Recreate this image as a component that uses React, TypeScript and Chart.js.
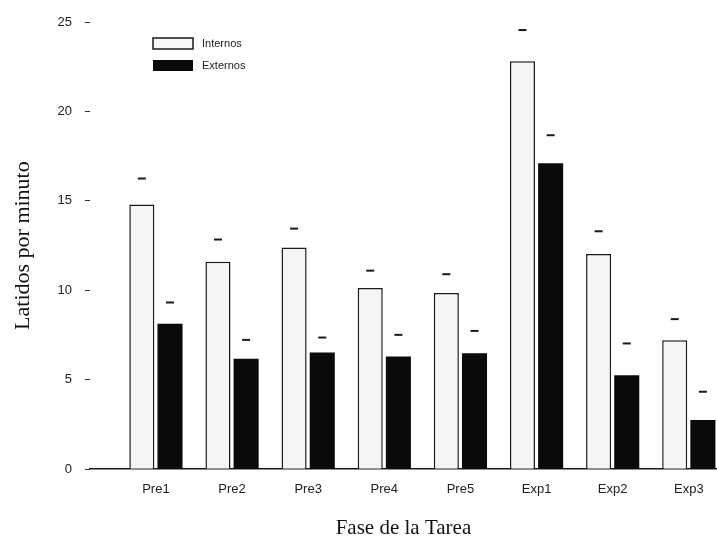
import React, { useEffect, useRef } from "react";
import { Chart, registerables } from "chart.js";

Chart.register(...registerables);

const categories = ["Pre1", "Pre2", "Pre3", "Pre4", "Pre5", "Exp1", "Exp2", "Exp3"];
const internos = [14.8, 11.6, 12.4, 10.13, 9.85, 22.8, 12.03, 7.21];
const externos = [8.13, 6.17, 6.52, 6.3, 6.48, 17.11, 5.25, 2.75];
const internosErr = [16.25, 12.84, 13.45, 11.1, 10.9, 24.55, 13.3, 8.39];
const externosErr = [9.32, 7.23, 7.36, 7.51, 7.73, 18.67, 7.03, 4.33];
const seriesLabels = ["Internos", "Externos"];
const yTicks = [0, 5, 10, 15, 20, 25];

const bgPlugin = {
  id: "bg",
  beforeDraw(chart: any) {
    const ctx = chart.ctx;
    ctx.save();
    ctx.fillStyle = "#ffffff";
    ctx.fillRect(0, 0, chart.width, chart.height);
    ctx.restore();
  },
};

const shiftPlugin = {
  id: "shiftX",
  afterLayout(chart: any) {
    const x = chart.scales.x;
    const start = chart.chartArea.left + 28;
    const len = 609;
    x._startPixel = start;
    x._endPixel = start + len;
    x._length = len;
  },
};

const capsPlugin = {
  id: "caps",
  afterDatasetsDraw(chart: any) {
    const ctx = chart.ctx;
    const y = chart.scales.y;
    const errs = [internosErr, externosErr];
    ctx.save();
    ctx.strokeStyle = "#1a1a1a";
    ctx.lineWidth = 2;
    chart.data.datasets.forEach((_: any, di: number) => {
      const meta = chart.getDatasetMeta(di);
      meta.data.forEach((bar: any, i: number) => {
        const py = y.getPixelForValue(errs[di][i]);
        ctx.beginPath();
        ctx.moveTo(bar.x - 4, py);
        ctx.lineTo(bar.x + 4, py);
        ctx.stroke();
      });
    });
    ctx.restore();
  },
};

const legendPlugin = {
  id: "customLegend",
  afterDraw(chart: any) {
    const ctx = chart.ctx;
    ctx.save();
    ctx.font = "11px 'Liberation Sans', Arial, sans-serif";
    ctx.textBaseline = "middle";
    ctx.fillStyle = "#f7f7f7";
    ctx.fillRect(153, 38, 40, 11);
    ctx.strokeStyle = "#1a1a1a";
    ctx.lineWidth = 1.5;
    ctx.strokeRect(153, 38, 40, 11);
    ctx.fillStyle = "#0a0a0a";
    ctx.fillRect(153, 60, 40, 11);
    ctx.fillStyle = "#222";
    ctx.fillText(seriesLabels[0], 202, 44);
    ctx.fillText(seriesLabels[1], 202, 66);
    ctx.restore();
  },
};

export default function App() {
  const ref = useRef<HTMLCanvasElement>(null);
  useEffect(() => {
    if (!ref.current) return;
    const chart = new Chart(ref.current, {
      type: "bar",
      data: {
        labels: categories,
        datasets: [
          {
            label: seriesLabels[0],
            data: internos,
            backgroundColor: "#f5f5f5",
            borderColor: "#1a1a1a",
            borderWidth: 1.5,
            categoryPercentage: 0.74,
            barPercentage: 0.89,
          },
          {
            label: seriesLabels[1],
            data: externos,
            backgroundColor: "#0a0a0a",
            borderWidth: 0,
            categoryPercentage: 0.74,
            barPercentage: 0.89,
          },
        ],
      },
      options: {
        animation: false,
        responsive: false,
        layout: { padding: { top: 22, right: 0, bottom: 1, left: 0 } },
        plugins: { legend: { display: false }, tooltip: { enabled: false } },
        scales: {
          x: {
            grid: { display: false },
            border: { display: true, color: "#1a1a1a", width: 1.5 },
            ticks: {
              color: "#222",
              padding: 4,
              font: { family: "'Liberation Sans', Arial, sans-serif", size: 13 },
            },
            title: {
              display: true,
              text: "Fase de la Tarea",
              color: "#111",
              padding: { top: 15, bottom: 0 },
              font: { family: "'Liberation Serif', 'Times New Roman', serif", size: 21 },
            },
          },
          y: {
            min: 0,
            max: 25,
            afterBuildTicks(scale: any) {
              scale.ticks = yTicks.map((v) => ({ value: v }));
            },
            grid: {
              display: true,
              drawOnChartArea: false,
              drawTicks: true,
              tickLength: 5,
              color: "#333",
            },
            border: { display: false },
            ticks: {
              color: "#222",
              padding: 13,
              font: { family: "'Liberation Sans', Arial, sans-serif", size: 13 },
            },
            title: {
              display: true,
              text: "Latidos por minuto",
              color: "#111",
              padding: { top: 10, bottom: 8 },
              font: { family: "'Liberation Serif', 'Times New Roman', serif", size: 22 },
            },
          },
        },
      },
      plugins: [bgPlugin, shiftPlugin, capsPlugin, legendPlugin],
    });
    return () => chart.destroy();
  }, []);
  return (
    <div style={{ position: "absolute", left: 0, top: 0, width: 717, height: 542 }}>
      <canvas ref={ref} width={717} height={542} style={{ display: "block" }} />
    </div>
  );
}
